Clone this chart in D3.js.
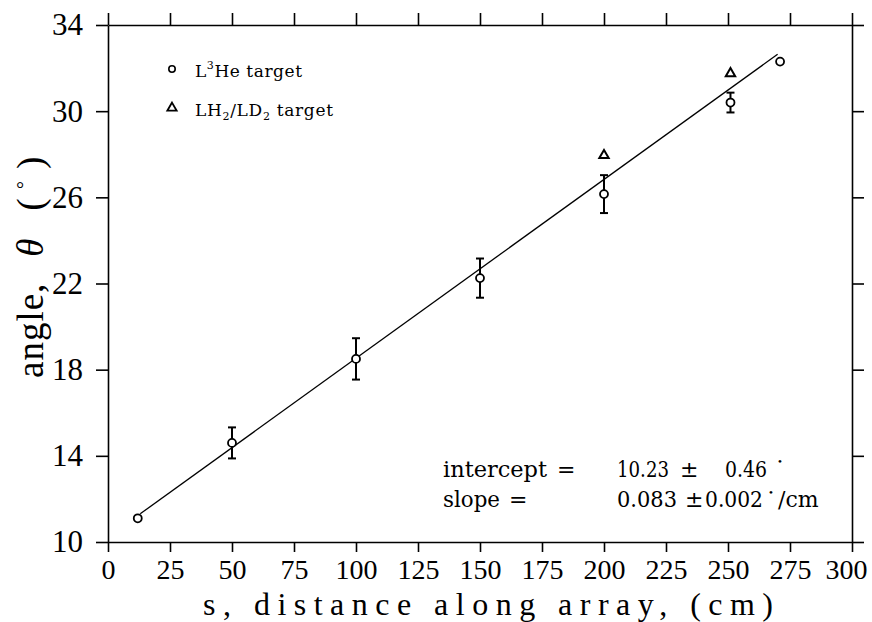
<!DOCTYPE html>
<html>
<head>
<meta charset="utf-8">
<script src="https://d3js.org/d3.v7.min.js"></script>
<style>
  body { margin: 0; background: #fff; }
  svg { display: block; }
  .tick line, .domain { stroke: #000; stroke-width: 1.6; }
</style>
</head>
<body>
<div id="chart"></div>
<script>
// data
var sHe     = [12, 50, 100, 150, 200, 251, 271];
var thetaHe = [11.1, 14.6, 18.5, 22.25, 26.15, 30.4, 32.3];
var errHe   = [0, 0.72, 0.96, 0.91, 0.88, 0.46, 0];

var sH     = [200, 251];
var thetaH = [27.95, 31.75];

// fit result
var intercept = 10.23, slope = 0.083;
var fitRange = [13, 270];

var xTicks = [0, 25, 50, 75, 100, 125, 150, 175, 200, 225, 250, 275, 300];
var yTicks = [10, 14, 18, 22, 26, 30, 34];

var W = 872, H = 622;
var mLeft = 108, mRight = 852, mTop = 25, mBottom = 542;

var svg = d3.select("#chart").append("svg")
    .attr("width", W).attr("height", H);

var x = d3.scaleLinear().domain([0, 300]).range([mLeft, mRight]);
var y = d3.scaleLinear().domain([10, 34]).range([mBottom, mTop]);

// axes (ticks outward on all four sides)
var gx = svg.append("g")
    .attr("transform", "translate(0," + mBottom + ")")
    .call(d3.axisBottom(x).tickValues(xTicks).tickSize(10).tickSizeOuter(0).tickPadding(7));
gx.selectAll("text")
    .style("font-family", "Liberation Serif").style("font-size", "28px").attr("fill", "#000");
gx.selectAll(".tick").filter(function(d) { return d === 300; }).select("text").attr("dx", -6);

var gy = svg.append("g")
    .attr("transform", "translate(" + mLeft + ",0)")
    .call(d3.axisLeft(y).tickValues(yTicks).tickSize(12).tickSizeOuter(0).tickPadding(13));
gy.selectAll("text")
    .style("font-family", "Liberation Serif").style("font-size", "31px").attr("fill", "#000");

svg.append("g")
    .attr("transform", "translate(0," + mTop + ")")
    .call(d3.axisTop(x).tickValues(xTicks).tickSize(12).tickSizeOuter(0).tickFormat(""));

svg.append("g")
    .attr("transform", "translate(" + mRight + ",0)")
    .call(d3.axisRight(y).tickValues(yTicks).tickSize(12).tickSizeOuter(0).tickFormat(""));

// axis titles
svg.append("text")
    .attr("x", 488).attr("y", 615)
    .attr("text-anchor", "middle")
    .attr("textLength", 570).attr("lengthAdjust", "spacing")
    .style("font-family", "Liberation Serif").style("font-size", "32px")
    .text("s, distance along array, (cm)");

var yl = svg.append("text")
    .attr("transform", "translate(43,378) rotate(-90)")
    .style("font-family", "Liberation Serif").style("font-size", "37px");
yl.append("tspan").attr("letter-spacing", 1).text("angle,");
yl.append("tspan").attr("dx", 26).style("font-style", "italic").text("θ");
yl.append("tspan").attr("dx", 28).text("(");
yl.append("tspan").attr("dx", 9).attr("dy", -12).style("font-size", "20px").text("°");
yl.append("tspan").attr("dx", 12).attr("dy", 12).text(")");

// fit line
var line = d3.line()
    .x(function(d) { return x(d); })
    .y(function(d) { return y(intercept + slope * d); });
svg.append("path")
    .datum(fitRange)
    .attr("d", line)
    .attr("fill", "none").attr("stroke", "#000").attr("stroke-width", 1.3);

// error bars
var heData = sHe.map(function(s, i) { return { s: s, t: thetaHe[i], e: errHe[i] }; });
var eb = svg.append("g").selectAll("g")
    .data(heData.filter(function(d) { return d.e > 0; }))
    .enter().append("g")
    .attr("stroke", "#000").attr("stroke-width", 2);
eb.append("line")
    .attr("x1", function(d) { return x(d.s); }).attr("x2", function(d) { return x(d.s); })
    .attr("y1", function(d) { return y(d.t - d.e); }).attr("y2", function(d) { return y(d.t + d.e); });
eb.append("line")
    .attr("x1", function(d) { return x(d.s) - 4; }).attr("x2", function(d) { return x(d.s) + 4; })
    .attr("y1", function(d) { return y(d.t - d.e); }).attr("y2", function(d) { return y(d.t - d.e); });
eb.append("line")
    .attr("x1", function(d) { return x(d.s) - 4; }).attr("x2", function(d) { return x(d.s) + 4; })
    .attr("y1", function(d) { return y(d.t + d.e); }).attr("y2", function(d) { return y(d.t + d.e); });

// L3He circles
svg.append("g").selectAll("circle")
    .data(heData)
    .enter().append("circle")
    .attr("cx", function(d) { return x(d.s); })
    .attr("cy", function(d) { return y(d.t); })
    .attr("r", 4)
    .attr("fill", "#fff").attr("stroke", "#000").attr("stroke-width", 1.8);

// LH2/LD2 triangles
var tri = d3.symbol().type(d3.symbolTriangle).size(38);
svg.append("g").selectAll("path")
    .data(sH.map(function(s, i) { return { s: s, t: thetaH[i] }; }))
    .enter().append("path")
    .attr("d", tri)
    .attr("transform", function(d) { return "translate(" + x(d.s) + "," + y(d.t) + ")"; })
    .attr("fill", "#fff").attr("stroke", "#000").attr("stroke-width", 2);

// legend
svg.append("circle").attr("cx", 172).attr("cy", 69).attr("r", 3.2)
    .attr("fill", "#fff").attr("stroke", "#000").attr("stroke-width", 1.6);
svg.append("path").attr("d", tri)
    .attr("transform", "translate(172,108)")
    .attr("fill", "#fff").attr("stroke", "#000").attr("stroke-width", 1.8);

var leg1 = svg.append("text").attr("x", 195).attr("y", 77)
    .attr("textLength", 107).attr("lengthAdjust", "spacing")
    .style("font-family", "DejaVu Serif").style("font-size", "17px");
leg1.append("tspan").text("L");
leg1.append("tspan").attr("dy", -8).style("font-size", "11px").text("3");
leg1.append("tspan").attr("dy", 8).text("He target");

var leg2 = svg.append("text").attr("x", 195).attr("y", 116)
    .attr("textLength", 138).attr("lengthAdjust", "spacing")
    .style("font-family", "DejaVu Serif").style("font-size", "17px");
leg2.append("tspan").text("LH");
leg2.append("tspan").attr("dy", 4).style("font-size", "11px").text("2");
leg2.append("tspan").attr("dy", -4).text("/LD");
leg2.append("tspan").attr("dy", 4).style("font-size", "11px").text("2");
leg2.append("tspan").attr("dy", -4).text(" target");

// fit annotation
var ann = svg.append("g")
    .style("font-family", "DejaVu Serif").style("font-size", "22px");
function put(txt, x0, y0, len) {
    var t = ann.append("text").attr("x", x0).attr("y", y0).text(txt);
    if (len) t.attr("textLength", len).attr("lengthAdjust", "spacingAndGlyphs");
    return t;
}
put("intercept", 443, 477, 104);
put("=", 557, 477);
put("10.23", 617, 477, 52);
put("±", 680, 477);
put("0.46", 725, 477, 42);
put("•", 777, 465).style("font-size", "10px");
put("slope", 443, 507, 57);
put("=", 509, 507);
put("0.083", 617, 507, 60);
put("±", 685, 507);
put("0.002", 705, 507, 58);
put("•", 768, 496).style("font-size", "10px");
put("/cm", 778, 507);
</script>
</body>
</html>
